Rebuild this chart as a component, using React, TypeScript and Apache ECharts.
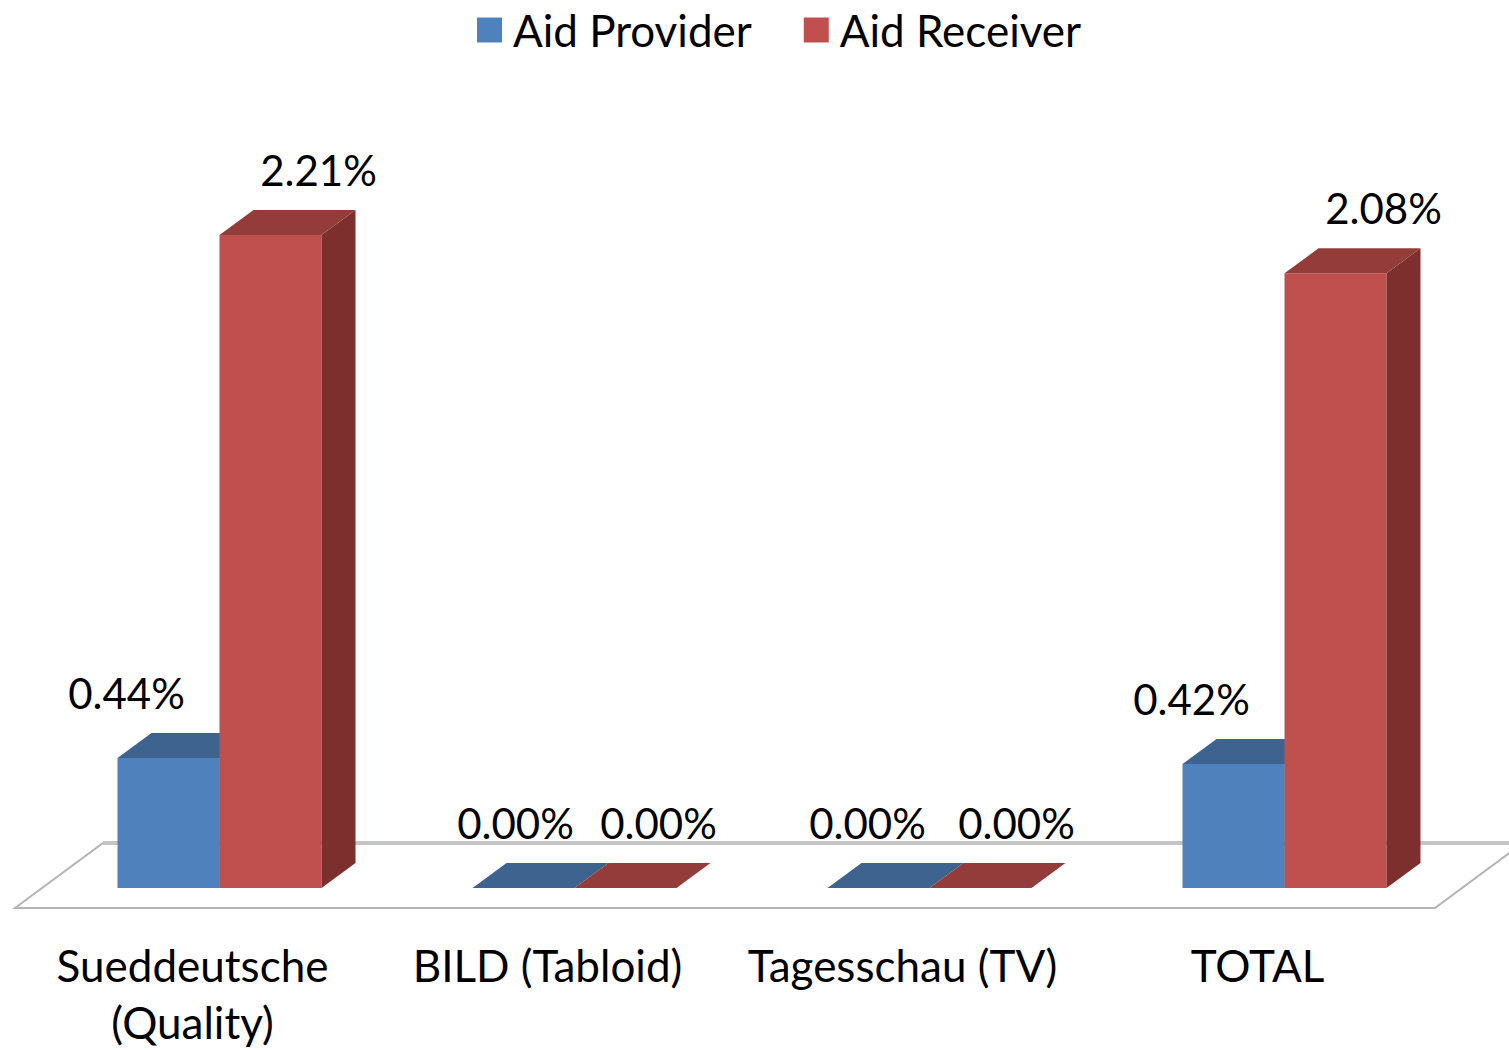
import React, { useEffect, useRef } from "react";
import * as echarts from "echarts";

const categories = ["Sueddeutsche\n(Quality)", "BILD (Tabloid)", "Tagesschau (TV)", "TOTAL"];
const seriesNames = ["Aid Provider", "Aid Receiver"];
const providerValues = [0.44, 0, 0, 0.42];
const receiverValues = [2.21, 0, 0, 2.08];

const FONT = "Lato";
const frontColors = ["#4F81BD", "#C0504D"];
const topColors = ["#3E638F", "#933C3A"];
const sideColors = ["#385A84", "#7D2F2E"];

export default function App() {
  const ref = useRef<HTMLDivElement>(null);
  useEffect(() => {
    const chart = echarts.init(ref.current!, undefined, { renderer: "svg" });
    const DX = 34;
    const DY = -25;
    const makeRender = () => (params: any, api: any) => {
      const ci = api.value(0);
      const v = api.value(1);
      const s = params.seriesIndex;
      const base = api.coord([ci, 0]);
      const top = api.coord([ci, v]);
      const band = api.size([1, 0])[0];
      const w = band * 0.2873;
      const x = base[0] - w + s * w;
      const ty = top[1];
      const by = base[1];
      const children: any[] = [];
      if (by - ty > 0.5) {
        children.push({
          type: "rect",
          shape: { x, y: ty, width: w, height: by - ty },
          style: { fill: frontColors[s] },
        });
        children.push({
          type: "polygon",
          shape: { points: [[x + w, ty], [x + w + DX, ty + DY], [x + w + DX, by + DY], [x + w, by]] },
          style: { fill: sideColors[s] },
        });
      }
      children.push({
        type: "polygon",
        shape: { points: [[x, ty], [x + w, ty], [x + w + DX, ty + DY], [x + DX, ty + DY]] },
        style: { fill: topColors[s] },
      });
      let off: number;
      if (v === 0) off = s === 0 ? -5 - ci * 3 : 30 + ci * 3;
      else off = s === 0 ? -42 : 48;
      children.push({
        type: "text",
        style: {
          text: v.toFixed(2) + "%",
          x: x + w / 2 + off,
          y: ty - 65,
          align: "center",
          verticalAlign: "middle",
          fill: "#000",
          font: `42px ${FONT}`,
        },
      });
      return { type: "group", children };
    };
    chart.setOption({
      animation: false,
      legend: {
        data: seriesNames,
        left: 472,
        top: 0,
        icon: "rect",
        itemWidth: 25,
        itemHeight: 25,
        itemGap: 52,
        textStyle: { fontFamily: FONT, fontSize: 44, color: "#000", lineHeight: 50, padding: [0, 0, 0, 6] },
      },
      grid: { left: 42, right: 47, top: 149.25, bottom: 162 },
      xAxis: {
        type: "category",
        data: categories,
        axisLine: { show: false },
        axisTick: { show: false },
        axisLabel: {
          fontFamily: FONT,
          fontSize: 44,
          color: "#000",
          lineHeight: 57,
          margin: 48,
          padding: [0, 54, 0, 0],
          interval: 0,
        },
      },
      yAxis: { type: "value", min: 0, max: 2.5, show: false, splitLine: { show: false } },
      graphic: [
        {
          type: "polygon",
          z: 0,
          shape: { points: [[15, 908], [1435, 908], [1523, 843], [103, 843]] },
          style: { fill: "#fff", stroke: "#B4B4B4", lineWidth: 2 },
        },
        {
          type: "line",
          z: 0,
          shape: { x1: 103, y1: 843, x2: 1523, y2: 843 },
          style: { stroke: "#C4C4C4", lineWidth: 4 },
        },
      ],
      series: [
        {
          type: "custom",
          name: seriesNames[0],
          itemStyle: { color: frontColors[0] },
          encode: { x: 0, y: 1 },
          data: providerValues.map((v, i) => [i, v]),
          renderItem: makeRender(),
          clip: false,
        },
        {
          type: "custom",
          name: seriesNames[1],
          itemStyle: { color: frontColors[1] },
          encode: { x: 0, y: 1 },
          data: receiverValues.map((v, i) => [i, v]),
          renderItem: makeRender(),
          clip: false,
        },
      ],
    });
    return () => chart.dispose();
  }, []);
  return <div ref={ref} style={{ position: "fixed", left: 0, top: 0, width: 1509, height: 1050, background: "#fff" }} />;
}
